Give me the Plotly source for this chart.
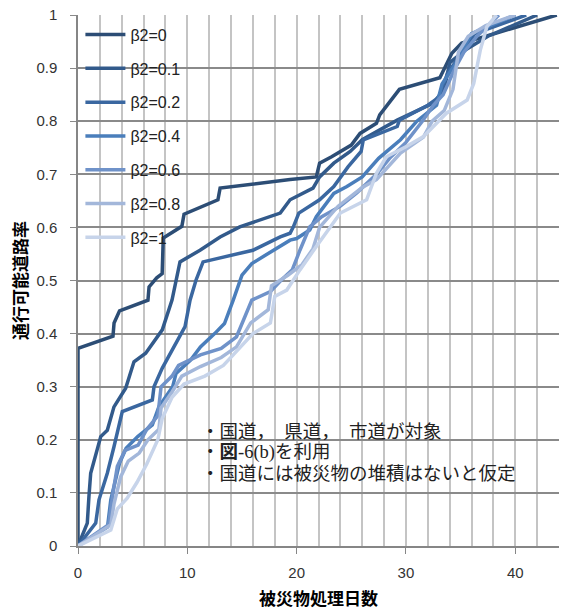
import plotly.graph_objects as go

# 被災物処理日数 vs 通行可能道路率, one curve per β2
labels = ["β2=0", "β2=0.1", "β2=0.2", "β2=0.4", "β2=0.6", "β2=0.8", "β2=1"]
colors = ["#2c4d75", "#325a8b", "#3a67a0", "#4a7ebb", "#6f92c9", "#a3b7da", "#c7d4ea"]

x_b0 = [0, 0, 3.2, 3.3, 3.8, 6.4, 6.5, 7.2, 7.7, 7.8, 9.5, 9.7, 12.8, 13.0, 19.4, 21.8, 22.1, 23.2,
        25.0, 25.8, 27.3, 27.6, 29.4, 33.1, 34.2, 35.1, 37.0, 43.8]
y_b0 = [0, 0.372, 0.395, 0.42, 0.443, 0.463, 0.488, 0.505, 0.513, 0.58, 0.602, 0.625, 0.652, 0.674,
        0.69, 0.695, 0.721, 0.733, 0.755, 0.777, 0.796, 0.812, 0.86, 0.882, 0.928, 0.947, 0.958, 1.0]

x_b01 = [0, 0.85, 1.0, 1.16, 2.08, 2.68, 3.29, 4.36, 5.12, 6.19, 7.71, 8.6, 9.33, 11.16, 13.0, 14.8,
         18.5, 19.4, 21.5, 22.1, 23.4, 24.9, 26.0, 29.2, 32.5, 33.5, 34.0, 35.5, 37.5, 42.0]
y_b01 = [0, 0.043, 0.093, 0.137, 0.206, 0.218, 0.262, 0.297, 0.347, 0.363, 0.407, 0.463, 0.535, 0.557,
         0.582, 0.601, 0.627, 0.652, 0.674, 0.695, 0.721, 0.743, 0.765, 0.802, 0.834, 0.86, 0.91, 0.935,
         0.96, 1.0]

x_b02 = [0, 1.62, 1.92, 2.68, 3.29, 4.05, 6.8, 6.95, 7.71, 8.94, 9.79, 10.25, 10.8, 11.44, 13.0, 16.0,
         18.5, 19.4, 19.7, 20.2, 22.1, 23.4, 24.7, 25.9, 26.1, 29.2, 29.4, 32.0, 33.0, 33.8, 35.0, 36.3,
         41.0]
y_b02 = [0, 0.043, 0.087, 0.137, 0.187, 0.253, 0.275, 0.30, 0.335, 0.382, 0.413, 0.463, 0.501, 0.535,
         0.542, 0.557, 0.582, 0.589, 0.601, 0.627, 0.652, 0.677, 0.714, 0.743, 0.765, 0.79, 0.802, 0.83,
         0.845, 0.89, 0.925, 0.965, 1.0]

x_b04 = [0, 2.7, 3.0, 3.8, 4.4, 5.46, 6.8, 7.4, 8.66, 8.97, 10.3, 11.2, 12.5, 13.4, 14.2, 15.0, 15.9,
         18.6, 19.4, 20.0, 21.2, 21.8, 23.4, 24.6, 26.0, 27.5, 29.5, 31.0, 32.8, 33.3, 34.6, 36.0, 40.0]
y_b04 = [0, 0.036, 0.087, 0.156, 0.184, 0.206, 0.228, 0.262, 0.30, 0.325, 0.35, 0.375, 0.40, 0.419,
         0.463, 0.51, 0.532, 0.567, 0.576, 0.579, 0.595, 0.62, 0.664, 0.677, 0.695, 0.73, 0.765, 0.80,
         0.83, 0.87, 0.91, 0.965, 1.0]

x_b06 = [0, 2.8, 3.2, 3.6, 4.3, 5.5, 6.3, 7.3, 7.6, 8.6, 9.2, 11.2, 13.1, 14.5, 15.9, 17.6, 18.6, 19.6,
         20.3, 21.2, 22.3, 24.0, 25.5, 27.3, 28.5, 30.0, 31.5, 32.5, 33.4, 34.5, 35.3, 36.5, 38.5]
y_b06 = [0, 0.04, 0.1, 0.15, 0.18, 0.19, 0.22, 0.245, 0.30, 0.32, 0.34, 0.36, 0.372, 0.394, 0.463,
         0.479, 0.501, 0.52, 0.557, 0.601, 0.62, 0.64, 0.665, 0.70, 0.73, 0.76, 0.80, 0.83, 0.85, 0.90,
         0.93, 0.96, 1.0]

x_b08 = [0, 3.0, 3.3, 3.9, 4.6, 5.6, 6.4, 7.4, 7.6, 8.6, 9.5, 11.2, 13.1, 14.5, 15.8, 17.4, 17.7, 19.2,
         20.5, 21.5, 22.1, 23.8, 26.0, 27.3, 29.5, 31.6, 32.4, 33.5, 34.3, 34.8, 35.7, 37.3, 40.0]
y_b08 = [0, 0.04, 0.08, 0.13, 0.16, 0.175, 0.20, 0.22, 0.26, 0.29, 0.32, 0.338, 0.355, 0.375, 0.42,
         0.445, 0.49, 0.51, 0.53, 0.56, 0.60, 0.64, 0.675, 0.69, 0.74, 0.77, 0.80, 0.82, 0.86, 0.93,
         0.96, 0.98, 1.0]

x_b1 = [0, 3.0, 3.6, 4.5, 5.4, 6.3, 7.3, 7.7, 8.6, 9.7, 11.6, 13.3, 14.2, 16.0, 17.6, 18.0, 19.1, 20.3,
        21.8, 24.0, 26.4, 27.3, 28.2, 30.0, 31.6, 32.2, 33.7, 35.6, 36.2, 36.8, 37.4, 38.3]
y_b1 = [0, 0.03, 0.07, 0.09, 0.12, 0.155, 0.20, 0.24, 0.28, 0.305, 0.32, 0.34, 0.36, 0.40, 0.42, 0.47,
        0.482, 0.52, 0.564, 0.627, 0.652, 0.702, 0.733, 0.752, 0.771, 0.783, 0.815, 0.84, 0.871, 0.934,
        0.978, 1.0]

series_x = [x_b0, x_b01, x_b02, x_b04, x_b06, x_b08, x_b1]
series_y = [y_b0, y_b01, y_b02, y_b04, y_b06, y_b08, y_b1]

notes = ["・国道，\u00a0\u00a0県道，\u00a0\u00a0市道が対象", "・<b>図</b>-6(b)を利用",
         "・国道には被災物の堆積はないと仮定"]
note_y = [0.2155, 0.1755, 0.1355]

fig = go.Figure()
for name, col, xs, ys in zip(labels, colors, series_x, series_y):
    fig.add_trace(go.Scatter(x=xs, y=ys, mode="lines", name=name, legendgroup=name,
                             line=dict(color=col, width=3.5)))

tick_font = dict(family="Liberation Sans, Noto Sans CJK JP", size=15, color="#333333")
title_font = dict(family="Noto Sans CJK JP", size=17, color="#000000", weight="bold")

fig.update_xaxes(range=[0, 44], dtick=10, tick0=0, showgrid=True, gridcolor="#c4c4c4", gridwidth=2,
                 minor=dict(dtick=2, showgrid=True, gridcolor="#c4c4c4", gridwidth=2),
                 ticks="outside", ticklen=6, tickcolor="#868686", showline=True, linecolor="#868686",
                 linewidth=1.5, zeroline=False, tickfont=tick_font, ticklabelstandoff=6,
                 automargin=False,
                 title=dict(text="被災物処理日数", font=title_font, standoff=13))
fig.update_yaxes(range=[0, 1], dtick=0.1, tick0=0, showgrid=True, gridcolor="#8a8a8a", gridwidth=1.5,
                 ticks="outside", ticklen=6, tickcolor="#8a8a8a", showline=True, linecolor="#868686",
                 linewidth=1.5, zeroline=False, tickfont=tick_font, ticklabelstandoff=10,
                 automargin=False,
                 title=dict(text="通行可能道路率", font=title_font, standoff=4))

note_font = dict(family="Liberation Serif, Noto Sans CJK JP", size=18.5, color="#222222")
for t, yy in zip(notes, note_y):
    fig.add_annotation(x=11.1, y=yy, xref="x", yref="y", text=t, showarrow=False,
                       xanchor="left", yanchor="middle", font=note_font)

fig.update_layout(
    width=575, height=612,
    margin=dict(l=78, r=16, t=15, b=66, autoexpand=False),
    paper_bgcolor="white", plot_bgcolor="white",
    showlegend=True,
    legend=dict(x=0.005, y=0.995, xanchor="left", yanchor="top", bgcolor="rgba(0,0,0,0)",
                font=dict(family="Liberation Sans, Noto Sans CJK JP", size=16, color="#222222"),
                tracegroupgap=10, itemwidth=40),
)

fig.write_html("out.html")
